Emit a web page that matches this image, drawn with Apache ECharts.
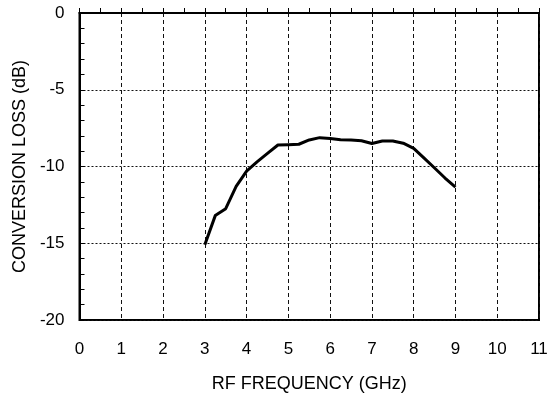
<!DOCTYPE html>
<html><head><meta charset="utf-8">
<script src="https://cdn.jsdelivr.net/npm/echarts@6/dist/echarts.min.js"></script>
<style>html,body{margin:0;padding:0;background:#fff}#c{width:553px;height:398px}</style>
</head><body><div id="c"></div>
<script>
const freqGHz = [3, 3.25, 3.5, 3.75, 4, 4.25, 4.5, 4.75, 5, 5.25, 5.5, 5.75, 6, 6.25, 6.5, 6.75, 7, 7.25, 7.5, 7.75, 8, 8.25, 8.5, 8.75, 9];
const conversionLoss = [-15.1, -13.2, -12.75, -11.3, -10.3, -9.7, -9.15, -8.6, -8.58, -8.55, -8.27, -8.12, -8.17, -8.25, -8.28, -8.32, -8.5, -8.34, -8.34, -8.48, -8.82, -9.45, -10.1, -10.75, -11.35];
const xTitle = 'RF FREQUENCY (GHz)';
const yTitle = 'CONVERSION LOSS (dB)';

const font = 'Liberation Sans, Arial, Helvetica, sans-serif';
const chart = echarts.init(document.getElementById('c'), null, {renderer: 'canvas'});
chart.setOption({
  animation: false,
  backgroundColor: '#fff',
  grid: {left: 79.5, right: 14, top: 13, bottom: 78, show: true, borderColor: '#000', borderWidth: 2, containLabel: false},
  xAxis: [{
    type: 'value', min: 0, max: 11, interval: 1,
    name: xTitle, nameLocation: 'middle', nameGap: 55,
    nameTextStyle: {fontFamily: font, fontSize: 18, color: '#000'},
    axisLine: {show: true, lineStyle: {color: '#000', width: 2}},
    axisTick: {show: true, inside: true, length: 5, lineStyle: {color: '#000', width: 1}},
    minorTick: {show: true, splitNumber: 2, length: 5, lineStyle: {color: '#000', width: 1}},
    axisLabel: {fontFamily: font, fontSize: 17, color: '#000', margin: 21},
    splitLine: {show: true, lineStyle: {color: '#111', type: [4, 3], width: 1}}
  }],
  yAxis: [{
    type: 'value', min: -20, max: 0, interval: 5,
    name: yTitle, nameLocation: 'middle', nameGap: 50,
    nameTextStyle: {fontFamily: font, fontSize: 18, color: '#000'},
    axisLine: {show: true, lineStyle: {color: '#000', width: 2}},
    axisTick: {show: true, inside: true, length: 5, lineStyle: {color: '#000', width: 1}},
    minorTick: {show: true, splitNumber: 5, length: 5, lineStyle: {color: '#000', width: 1}},
    axisLabel: {fontFamily: font, fontSize: 17, color: '#000', margin: 15},
    splitLine: {show: true, lineStyle: {color: '#111', type: [2, 2], width: 1}}
  }],
  series: [{
    type: 'line',
    data: freqGHz.map((f, i) => [f, conversionLoss[i]]),
    showSymbol: false, symbol: 'none',
    lineStyle: {color: '#000', width: 3, join: 'round'}
  }]
});
</script></body></html>
